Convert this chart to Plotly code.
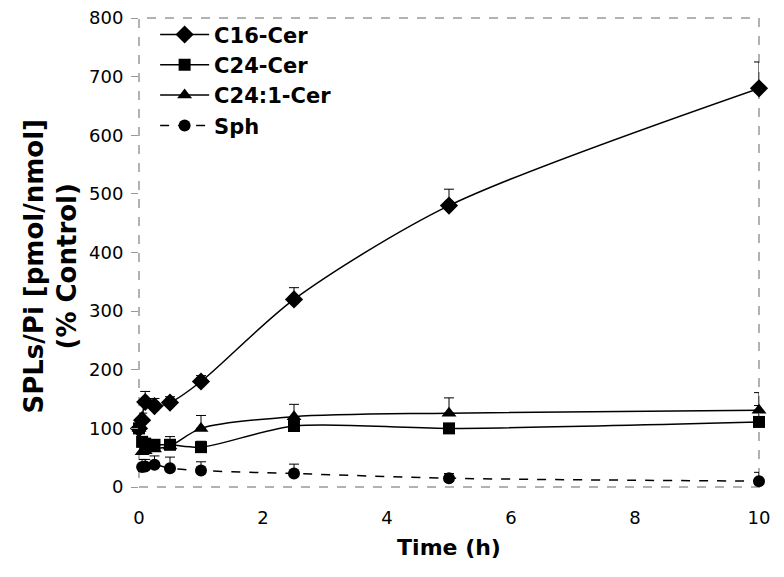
import plotly.graph_objects as go

# Data
time_cer = [0, 0.05, 0.1, 0.25, 0.5, 1, 2.5, 5, 10]
c16_cer = [100, 114, 145, 138, 144, 180, 320, 480, 680]
c16_err = [0, 12, 18, 13, 10, 10, 20, 28, 45]
c24_cer = [100, 77, 74, 72, 72, 68, 104, 100, 111]
c24_err = [0, 8, 8, 8, 14, 10, 10, 8, 28]
c241_cer = [100, 60, 62, 65, 70, 100, 120, 126, 131]
c241_err = [0, 8, 8, 8, 10, 22, 21, 26, 30]
time_sph = [0.05, 0.1, 0.25, 0.5, 1, 2.5, 5, 10]
sph = [34, 35, 38, 32, 28, 23, 15, 10]
sph_err = [13, 12, 15, 19, 15, 16, 8, 15]

x_ticks = [0, 2, 4, 6, 8, 10]
y_ticks = [0, 100, 200, 300, 400, 500, 600, 700, 800]

FONT = "DejaVu Sans"

def series(name, x, y, err, symbol, dash="solid", size=12):
    return go.Scatter(
        x=x, y=y, name=name, mode="lines+markers",
        line=dict(color="black", width=1.5, dash=dash, shape="spline", smoothing=0.8),
        marker=dict(symbol=symbol, size=size, color="black"),
        error_y=dict(type="data", array=err, arrayminus=[0] * len(err), symmetric=False,
                     color="black", thickness=1, width=5),
        cliponaxis=False,
    )

fig = go.Figure()
fig.add_trace(series("C16-Cer", time_cer, c16_cer, c16_err, "diamond", size=14))
fig.add_trace(series("C24-Cer", time_cer, c24_cer, c24_err, "square", size=12))
fig.add_trace(series("C24:1-Cer", time_cer, c241_cer, c241_err, "triangle-up", size=13))
fig.add_trace(series("Sph", time_sph, sph, sph_err, "circle", dash="dash", size=12))

fig.update_layout(
    width=784, height=577,
    margin=dict(l=131, r=33, t=10, b=98, autoexpand=False),
    paper_bgcolor="white", plot_bgcolor="white",
    font=dict(family=FONT, color="black", size=18),
    showlegend=True,
    legend=dict(x=0.026, y=0.989, xanchor="left", yanchor="top",
                xref="paper", yref="container",
                bgcolor="rgba(0,0,0,0)", borderwidth=0,
                font=dict(family=FONT, size=21, color="black", weight="bold"),
                tracegroupgap=0, itemwidth=49),
    xaxis=dict(range=[0, 10], tickvals=x_ticks, ticktext=[str(v) for v in x_ticks],
               showgrid=False, zeroline=False, showline=False,
               ticks="", ticklen=0, ticklabelstandoff=18,
               title=dict(text="<b>Time (h)</b>", font=dict(size=22), standoff=12)),
    yaxis=dict(range=[0, 800], tickvals=y_ticks, ticktext=[str(v) for v in y_ticks],
               showgrid=False, zeroline=False, showline=False,
               ticks="outside", ticklen=7, tickcolor="#999999",
               ticklabeloverflow="allow", ticklabelstandoff=4),
    annotations=[dict(text="<b>SPLs/Pi [pmol/nmol]<br>(% Control)</b>",
                      xref="paper", yref="paper", x=0, y=0.5,
                      xanchor="center", yanchor="middle", xshift=-89, yshift=-14,
                      textangle=-90, showarrow=False,
                      font=dict(family=FONT, size=26, color="black"))],
    shapes=[dict(type="rect", xref="paper", yref="paper", x0=0, x1=1, y0=0, y1=1,
                 line=dict(color="#999999", width=1.5, dash="dash"), layer="below")],
)

fig.write_html("out.html")
